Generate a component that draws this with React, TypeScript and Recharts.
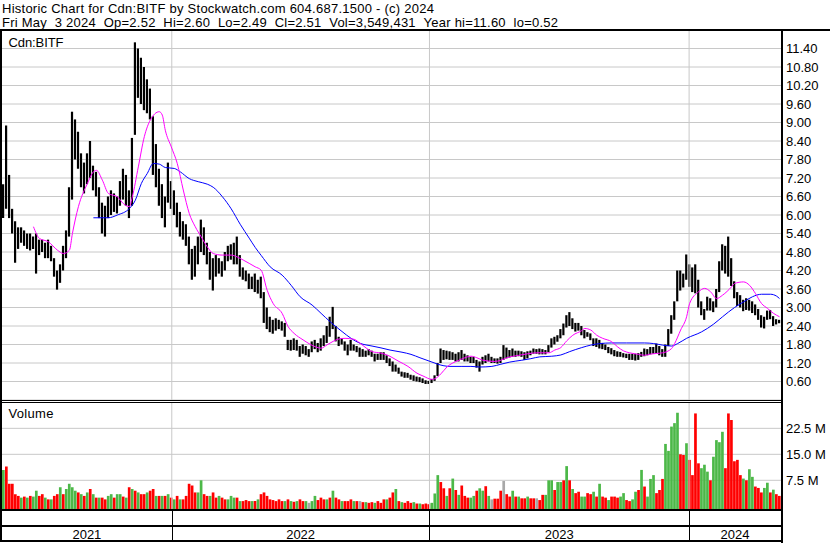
import React from "react"
import {
  ComposedChart,
  Bar,
  Line,
  XAxis,
  YAxis,
  CartesianGrid,
  ReferenceLine,
  Cell,
} from "recharts"

const FONT = "'Liberation Sans', Arial, sans-serif"
const GRID = "#c8c8c8"

// one slot = about three trading days, Feb 2021 .. May 3 2024
const priceHigh = [
  7.0, 8.9, 7.3, 6.2, 5.8, 5.6, 5.6, 5.5, 5.4, 5.4,
  5.3, 5.4, 5.2, 5.2, 5.1, 5.2, 5.0, 4.6, 4.2, 4.4,
  5.0, 5.5, 6.9, 9.35, 9.1, 8.7, 8.0, 7.7, 8.0, 8.4,
  7.6, 7.4, 6.9, 6.4, 6.3, 6.6, 6.8, 6.7, 6.6, 7.1,
  7.5, 7.3, 6.8, 8.5, 11.6, 11.4, 11.1, 10.8, 10.4, 10.1,
  9.2, 8.3, 7.5, 7.0, 6.6, 7.7, 7.1, 6.8, 6.4, 6.1,
  5.8, 5.7, 5.3, 4.9, 5.0, 5.3, 5.85, 5.6, 5.1, 4.8,
  4.6, 4.7, 4.6, 4.5, 4.8, 5.0, 5.05, 5.1, 5.3, 4.7,
  4.3, 4.2, 4.1, 4.0, 4.1, 3.9, 4.0, 3.5, 3.0, 2.7,
  2.6, 2.65, 2.6, 2.55, 2.5, 1.95, 1.95, 2.0, 1.95, 1.75,
  1.8, 1.75, 1.65, 1.9, 1.95, 1.85, 2.0, 2.1, 2.4, 2.7,
  3.02, 2.4, 2.05, 2.0, 1.9, 1.8, 1.95, 1.8, 1.75, 1.7,
  1.65, 1.6, 1.65, 1.6, 1.5, 1.5, 1.55, 1.55, 1.45, 1.35,
  1.25, 1.15, 1.05, 0.92, 0.9, 0.88, 0.82, 0.8, 0.76, 0.74,
  0.7, 0.64, 0.62, 0.68, 0.8, 1.2, 1.67, 1.62, 1.6, 1.58,
  1.55, 1.5, 1.55, 1.62, 1.5, 1.45, 1.4, 1.4, 1.3, 1.25,
  1.4, 1.45, 1.5, 1.4, 1.35, 1.35, 1.4, 1.78, 1.7, 1.62,
  1.67, 1.6, 1.6, 1.58, 1.55, 1.58, 1.6, 1.67, 1.65, 1.67,
  1.65, 1.62, 1.78, 2.0, 2.05, 2.1, 2.3, 2.48, 2.75, 2.85,
  2.65, 2.5, 2.5, 2.4, 2.27, 2.2, 2.16, 2.0, 2.0, 1.95,
  1.85, 1.8, 1.72, 1.68, 1.62, 1.58, 1.56, 1.52, 1.5, 1.5,
  1.5, 1.5, 1.52, 1.56, 1.67, 1.65, 1.72, 1.72, 1.83, 1.75,
  1.65, 1.8, 2.3, 2.75, 3.2, 4.2, 4.2, 4.1, 4.72, 4.4,
  4.3, 4.4, 3.9, 3.2, 2.95, 3.35, 3.3, 3.2, 3.6, 4.5,
  5.05, 5.0, 5.3, 4.6, 3.85, 3.5, 3.4, 3.25, 3.3, 3.25,
  3.2, 3.1, 2.95, 2.75, 2.7, 2.9, 2.92, 2.72, 2.62, 2.6,
]

const priceLow = [
  5.9, 6.2, 5.9, 5.4, 4.45, 4.9, 5.1, 5.0, 4.9, 4.85,
  4.9, 4.1, 4.7, 4.8, 4.6, 4.6, 4.5, 4.0, 3.58, 3.8,
  4.2, 4.6, 5.3, 6.5, 7.8, 7.5, 6.9, 6.7, 7.0, 7.2,
  6.8, 6.6, 5.9, 5.4, 5.3, 5.9, 6.0, 6.1, 6.05, 6.3,
  6.5, 6.3, 5.9, 6.3, 8.6, 9.8, 9.6, 9.4, 9.3, 9.1,
  7.3, 6.9, 6.3, 5.9, 5.6, 6.4, 6.2, 6.0, 5.6, 5.3,
  5.2, 5.0, 4.4, 3.9, 4.0, 4.4, 4.8, 4.7, 4.4, 3.9,
  3.55, 4.0, 4.1, 4.0, 4.2, 4.5, 4.55, 4.4, 4.4, 4.0,
  3.9, 3.85, 3.6, 3.6, 3.5, 3.45, 3.3, 2.5, 2.3, 2.2,
  2.15, 2.25, 2.3, 2.25, 2.05, 1.62, 1.6, 1.62, 1.6, 1.4,
  1.5, 1.45, 1.4, 1.55, 1.65, 1.55, 1.6, 1.75, 1.85, 2.05,
  2.3, 1.9, 1.75, 1.8, 1.6, 1.45, 1.6, 1.6, 1.55, 1.4,
  1.4, 1.4, 1.45, 1.4, 1.25, 1.3, 1.3, 1.3, 1.2, 1.1,
  0.92, 0.92, 0.85, 0.76, 0.72, 0.72, 0.66, 0.62, 0.6, 0.58,
  0.55, 0.52, 0.52, 0.55, 0.62, 0.78, 1.2, 1.3, 1.32, 1.3,
  1.3, 1.25, 1.25, 1.3, 1.25, 1.25, 1.2, 1.2, 1.05, 0.92,
  1.15, 1.2, 1.25, 1.2, 1.2, 1.18, 1.2, 1.3, 1.35, 1.38,
  1.4, 1.4, 1.42, 1.4, 1.3, 1.35, 1.45, 1.5, 1.5, 1.48,
  1.48, 1.48, 1.55, 1.7, 1.8, 1.89, 2.0, 2.1, 2.35, 2.4,
  2.3, 2.22, 2.25, 2.1, 2.0, 2.05, 1.94, 1.75, 1.72, 1.67,
  1.65, 1.62, 1.52, 1.48, 1.42, 1.4, 1.4, 1.38, 1.36, 1.3,
  1.3, 1.28, 1.3, 1.4, 1.42, 1.45, 1.48, 1.5, 1.52, 1.45,
  1.4, 1.4, 1.75, 2.15, 2.6, 3.2, 3.55, 3.65, 3.9, 3.67,
  3.5, 3.46, 3.0, 2.75, 2.6, 2.9, 2.9, 2.85, 3.0, 3.5,
  4.2, 4.1, 4.0, 3.7, 3.3, 3.05, 3.0, 2.88, 2.92, 2.9,
  2.82, 2.75, 2.6, 2.35, 2.32, 2.6, 2.62, 2.4, 2.45, 2.49,
]

// volume in millions of shares, one per slot
const volume = [
  10.5, 11.5, 6.5, 6.5, 3.5, 3.0, 2.5, 2.8, 2.5, 3.0,
  2.8, 4.5, 3.0, 3.5, 2.5, 2.0, 2.0, 3.0, 3.5, 5.5,
  3.5, 5.0, 6.5, 5.5, 4.5, 4.0, 3.5, 3.0, 4.0, 5.0,
  3.5, 2.5, 2.5, 2.5, 2.0, 3.0, 3.5, 2.5, 3.5, 3.5,
  2.8, 2.5, 5.5, 5.0, 4.5, 4.0, 3.5, 3.5, 4.0, 4.5,
  5.0, 3.0, 3.0, 3.0, 3.0, 3.5, 2.5, 2.0, 3.0, 2.0,
  2.0, 3.0, 6.5, 6.0, 4.0, 4.0, 7.5, 3.5, 3.0, 3.0,
  4.0, 2.5, 3.0, 2.5, 2.0, 2.0, 3.0, 2.5, 2.5, 1.5,
  1.5, 1.8, 1.5, 1.5, 1.5, 2.0, 3.5, 4.0, 3.0, 2.0,
  1.8, 1.5, 2.0, 1.5, 1.5, 2.0, 1.5, 1.3, 1.5, 2.0,
  1.5, 1.5, 1.0, 1.5, 3.0, 1.8, 2.5, 2.0, 2.0, 2.5,
  4.5, 2.5, 2.0, 1.5, 1.5, 1.5, 2.0, 1.5, 1.5, 1.5,
  1.2, 1.2, 1.0, 1.2, 1.0, 1.5, 1.0, 2.0, 2.0, 2.5,
  4.0, 5.0, 1.5, 1.2, 1.0, 1.5, 1.0, 1.2, 0.8, 0.8,
  0.6, 0.8, 0.6, 1.0, 3.7, 9.0, 7.0, 5.2, 3.0, 5.2,
  8.0, 4.7, 3.3, 6.0, 3.0, 2.5, 2.5, 3.0, 4.5, 5.2,
  4.5, 5.8, 3.0, 2.0, 2.2, 2.2, 4.5, 7.3, 3.5, 2.8,
  4.5, 2.8, 2.8, 2.3, 2.3, 2.8, 2.3, 2.3, 2.3, 1.8,
  3.3, 3.3, 7.5, 7.5, 4.7, 7.0, 7.0, 7.5, 11.6, 7.5,
  5.0, 3.8, 4.2, 2.8, 2.8, 3.8, 3.5, 4.2, 2.8, 6.5,
  2.8, 2.5, 1.8, 2.8, 2.8, 2.5, 2.8, 3.8, 1.8, 1.5,
  2.0, 4.2, 4.7, 10.5, 5.7, 2.8, 7.9, 9.0, 3.8, 4.7,
  7.9, 18.0, 16.0, 23.0, 24.0, 27.0, 15.0, 14.8, 18.2, 13.4,
  9.0, 26.8, 12.4, 11.0, 12.0, 10.0, 7.5, 14.3, 19.1, 18.5,
  21.5, 11.0, 26.8, 24.9, 13.0, 13.4, 9.0, 8.0, 7.5, 10.7,
  8.5, 5.7, 5.3, 4.0, 5.3, 6.8, 4.0, 4.8, 3.5, 3.0,
]

// g = up day, r = down day, n = unchanged
const volumeSide =
  "grrrrrgrgr" + "ggrrgrgrrg" + "rggggrgrgr" + "grgrrggrgg" + "rgrgrgrrgr" +
  "rgrgrgrgrg" + "rrrrrggrrg" + "rrgrrgggrg" + "rrrgrgrrrr" + "rrrrgrgrgr" +
  "rgnggrrrgr" + "grrgrrrgrn" + "rgrrgrrrgr" + "rgrgrrrgrg" + "rrrgggrrgr" +
  "grgrrrggrg" + "grgnrrrnrr" + "grgrrgrrnr" + "rgggrggrgr" + "grrggrrgrg" +
  "rrgrrrggrr" + "ggrgrgggrr" + "rgggggrrgr" + "rrrgggrggg" + "grrrrrrgrg" +
  "grrrggrgrr"

// moving averages: slot index + value
const fastAt = [
  10, 12, 15, 18, 20, 22, 23, 25, 28, 30, 31, 33, 35, 38, 40, 42, 43, 45, 47, 49,
  52, 53, 54, 56, 58, 60, 62, 64, 66, 68, 70, 73, 76, 78, 80, 84, 86, 88, 90, 93,
  95, 97, 100, 104, 106, 108, 112, 114, 117, 119, 123, 126, 128, 132, 135, 138, 140, 143, 144, 146,
  148, 152, 154, 156, 158, 160, 164, 166, 168, 172, 175, 178, 182, 184, 186, 188, 190, 193, 194, 196,
  198, 200, 203, 205, 207, 209, 212, 214, 216, 218, 220, 223, 224, 226, 228, 229, 232, 234, 236, 238,
  240, 243, 244, 247, 249, 251, 253, 255, 257, 259,
]
const fastValue = [
  5.62, 5.24, 5.13, 4.86, 4.75, 4.86, 5.4, 6.27, 7.02, 7.4, 7.45, 7.13, 6.7, 6.59, 6.37, 6.27, 6.59, 7.56, 8.54, 9.08,
  9.35, 9.24, 8.75, 8.21, 7.67, 6.81, 6.05, 5.62, 5.29, 4.97, 4.75, 4.7, 4.7, 4.64, 4.54, 4.32, 4.21, 3.56, 3.13, 2.81,
  2.38, 2.16, 1.95, 1.73, 1.68, 1.79, 1.98, 2.0, 1.97, 1.84, 1.57, 1.52, 1.46, 1.25, 1.09, 0.87, 0.78, 0.67, 0.69, 0.85,
  1.07, 1.29, 1.37, 1.42, 1.37, 1.29, 1.25, 1.29, 1.37, 1.45, 1.5, 1.53, 1.53, 1.62, 1.7, 1.92, 2.1, 2.25, 2.32, 2.27,
  2.1, 2.0, 1.89, 1.72, 1.59, 1.53, 1.48, 1.45, 1.49, 1.51, 1.53, 1.67, 1.83, 2.27, 2.7, 3.13, 3.51, 3.62, 3.51, 3.29,
  3.4, 3.67, 3.78, 3.83, 3.72, 3.45, 3.13, 2.97, 2.81, 2.7,
]

const slowAt = [
  30, 35, 38, 42, 44, 46, 48, 50, 52, 54, 57, 59, 62, 65, 68, 70, 73, 76, 79, 82,
  84, 86, 89, 93, 96, 99, 103, 106, 109, 113, 116, 119, 123, 126, 129, 133, 136, 139, 143, 145,
  147, 149, 153, 156, 159, 163, 166, 169, 173, 176, 179, 183, 186, 189, 193, 196, 199, 203, 208, 214,
  217, 220, 223, 225, 228, 233, 237, 240, 244, 247, 250, 253, 256, 258, 259,
]
const slowValue = [
  5.91, 5.91, 6.0, 6.21, 6.48, 7.02, 7.35, 7.67, 7.65, 7.54, 7.51, 7.4, 7.18, 7.08, 7.0, 6.9, 6.6, 6.2, 5.7, 5.25,
  4.95, 4.69, 4.32, 4.05, 3.72, 3.35, 3.08, 2.81, 2.54, 2.22, 2.0, 1.84, 1.75, 1.69, 1.62, 1.55, 1.48, 1.37, 1.23, 1.16,
  1.11, 1.09, 1.09, 1.09, 1.07, 1.09, 1.16, 1.23, 1.29, 1.34, 1.4, 1.42, 1.46, 1.57, 1.7, 1.78, 1.83, 1.85, 1.85, 1.85,
  1.83, 1.78, 1.75, 1.83, 2.0, 2.21, 2.46, 2.7, 3.0, 3.18, 3.35, 3.43, 3.43, 3.37, 3.29,
]

const priceTicks = [0.6, 1.2, 1.8, 2.4, 3.0, 3.6, 4.2, 4.8, 5.4, 6.0, 6.6, 7.2, 7.8, 8.4, 9.0, 9.6, 10.2, 10.8, 11.4]
const volumeTicks = [7.5, 15, 22.5]
const yearStarts = [56.67, 142.67, 229.33]
const yearLabels = ["2021", "2022", "2023", "2024"]

const SLOTS = priceHigh.length
const VOL_FLOOR = -0.78
const sideColor: Record<string, string> = { g: "#4cb848", r: "#ff0000", n: "#a8a8a8" }

const rows = priceHigh.map((h, i) => ({
  x: i + 0.5,
  range: [priceLow[i], h],
  vol: [VOL_FLOOR, volume[i]],
  fast: null as number | null,
  slow: null as number | null,
}))
fastAt.forEach((k, j) => (rows[k].fast = fastValue[j]))
slowAt.forEach((k, j) => (rows[k].slow = slowValue[j]))

// pixel frame of the stockwatch layout
const LEFT = 2
const RIGHT = 781
const slotX = (s: number) => LEFT + (s * (RIGHT - LEFT)) / SLOTS

function PriceTick({ y, payload }: any) {
  return (
    <text x={786} y={y} dy={4.5} fontSize={13} fontFamily={FONT} fill="#000">
      {Number(payload.value).toFixed(2)}
    </text>
  )
}

function VolumeTick({ y, payload }: any) {
  return (
    <text x={786} y={y} dy={4.5} fontSize={13} fontFamily={FONT} fill="#000">
      {`${Number(payload.value).toFixed(1)} M`}
    </text>
  )
}

const NB = "\u00a0"
const titleLine1 = "Historic Chart for Cdn:BITF by Stockwatch.com 604.687.1500 - (c) 2024"
const titleLine2 = `Fri May ${NB}3 2024 ${NB}Op=2.52 ${NB}Hi=2.60 ${NB}Lo=2.49 ${NB}Cl=2.51 ${NB}Vol=3,549,431 ${NB}Year hi=11.60 ${NB}lo=0.52`

export default function App() {
  const bounds = [LEFT, ...yearStarts.map(slotX), RIGHT]

  return (
    <div style={{ position: "absolute", left: 0, top: 0, width: 830, height: 543, background: "#fff", overflow: "hidden" }}>
      <div style={{ position: "absolute", left: 0, top: 30 }}>
        <ComposedChart width={830} height={370} data={rows} margin={{ top: 0, right: 0, bottom: 0, left: LEFT }}>
          <CartesianGrid stroke={GRID} vertical={false} />
          <XAxis type="number" dataKey="x" domain={[0, SLOTS]} allowDataOverflow hide />
          <YAxis
            orientation="right"
            domain={[0, 12]}
            allowDataOverflow
            ticks={priceTicks}
            width={830 - RIGHT}
            axisLine={false}
            tickLine={false}
            tick={<PriceTick />}
            interval={0}
          />
          {yearStarts.map((s) => (
            <ReferenceLine key={s} x={s} stroke={GRID} />
          ))}
          <Bar dataKey="range" fill="#000" barSize={2.2} isAnimationActive={false} />
          <Line type="monotone" dataKey="slow" stroke="#0000ff" strokeWidth={1} dot={false} activeDot={false} connectNulls isAnimationActive={false} />
          <Line type="monotone" dataKey="fast" stroke="#ff00ff" strokeWidth={1} dot={false} activeDot={false} connectNulls isAnimationActive={false} />
        </ComposedChart>
      </div>

      <div style={{ position: "absolute", left: 0, top: 402 }}>
        <ComposedChart width={830} height={107} data={rows} margin={{ top: 0, right: 0, bottom: 0, left: LEFT }}>
          <CartesianGrid stroke={GRID} vertical={false} />
          <XAxis type="number" dataKey="x" domain={[0, SLOTS]} allowDataOverflow hide />
          <YAxis
            orientation="right"
            domain={[VOL_FLOOR, 30.1]}
            allowDataOverflow
            ticks={volumeTicks}
            width={830 - RIGHT}
            axisLine={false}
            tickLine={false}
            tick={<VolumeTick />}
            interval={0}
          />
          {yearStarts.map((s) => (
            <ReferenceLine key={s} x={s} stroke={GRID} />
          ))}
          <Bar dataKey="vol" barSize={3} isAnimationActive={false}>
            {rows.map((_, i) => (
              <Cell key={i} fill={sideColor[volumeSide[i]]} />
            ))}
          </Bar>
        </ComposedChart>
      </div>

      <svg width={830} height={543} style={{ position: "absolute", left: 0, top: 0, pointerEvents: "none" }}>
        <g fontFamily={FONT} fontSize={13} fill="#000">
          <text x={2} y={13} textLength={432} lengthAdjust="spacing">{titleLine1}</text>
          <text x={2} y={27} textLength={556} lengthAdjust="spacing">{titleLine2}</text>
          <text x={8.5} y={46.5} textLength={55} lengthAdjust="spacing">Cdn:BITF</text>
          <text x={8.5} y={417.5} textLength={45} lengthAdjust="spacing">Volume</text>
          {yearLabels.map((label, k) => (
            <text key={label} x={(bounds[k] + bounds[k + 1]) / 2} y={538.5} textAnchor="middle">
              {label}
            </text>
          ))}
        </g>
        <g fill="#000">
          <rect x={0} y={29} width={830} height={2} />
          <rect x={0} y={29} width={2} height={513} />
          <rect x={RIGHT} y={29} width={2} height={514} />
          <rect x={0} y={400} width={RIGHT} height={1} />
          <rect x={0} y={402} width={RIGHT} height={1} />
          <rect x={0} y={509} width={RIGHT} height={2} />
          <rect x={0} y={525} width={RIGHT} height={2} />
          <rect x={0} y={540} width={RIGHT + 2} height={2} />
          {yearStarts.map((s) => (
            <rect key={s} x={Math.round(slotX(s))} y={509} width={1} height={32} />
          ))}
        </g>
      </svg>
    </div>
  )
}
